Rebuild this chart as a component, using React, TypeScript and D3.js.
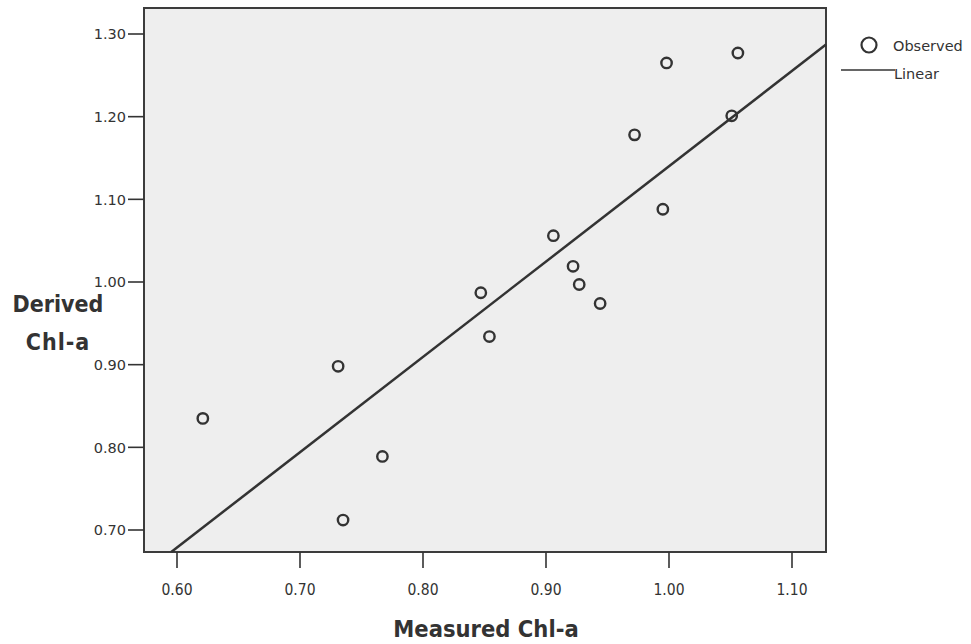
import React from "react";
import * as d3 from "d3";

// Measured vs. derived chlorophyll-a
const measured = [0.621, 0.731, 0.735, 0.767, 0.847, 0.854, 0.906, 0.922, 0.927, 0.944, 0.972, 0.995, 0.998, 1.051, 1.056];
const derived = [0.835, 0.898, 0.712, 0.789, 0.987, 0.934, 1.056, 1.019, 0.997, 0.974, 1.178, 1.088, 1.265, 1.201, 1.277];

// Linear fit: derived = intercept + slope * measured
const fitIntercept = -0.013;
const fitSlope = 1.153;

const xTicks = [0.6, 0.7, 0.8, 0.9, 1.0, 1.1];
const yTicks = [0.7, 0.8, 0.9, 1.0, 1.1, 1.2, 1.3];

const W = 971;
const H = 644;
const frame = { left: 144, right: 826, top: 8, bottom: 552 };
const ink = "#333333";
const font = "'DejaVu Sans', Verdana, sans-serif";
const narrow = "'DejaVu Sans Condensed', 'DejaVu Sans', sans-serif";

export default function App() {
  const x = d3.scaleLinear().domain([0.6, 1.1]).range([177, 792]);
  const y = d3.scaleLinear().domain([0.7, 1.3]).range([530, 34]);

  const xMin = x.invert(frame.left);
  const xMax = x.invert(frame.right);
  const yMin = y.invert(frame.bottom);
  const yMax = y.invert(frame.top);

  // clip the fitted line to the frame
  const xStart = Math.max(xMin, (yMin - fitIntercept) / fitSlope);
  const xEnd = Math.min(xMax, (yMax - fitIntercept) / fitSlope);
  const fitLine = d3
    .line<number>()
    .x((d) => x(d))
    .y((d) => y(fitIntercept + fitSlope * d))([xStart, xEnd]);

  const fmt = d3.format(".2f");

  return (
    <svg
      width={W}
      height={H}
      style={{ position: "absolute", left: 0, top: 0, background: "#ffffff" }}
      fontFamily={font}
    >
      <rect
        x={frame.left}
        y={frame.top}
        width={frame.right - frame.left}
        height={frame.bottom - frame.top}
        fill="#eeeeee"
        stroke="#3c3c3c"
        strokeWidth={2}
      />

      {/* y axis ticks */}
      {yTicks.map((t) => (
        <g key={"y" + t}>
          <line x1={128} x2={frame.left} y1={y(t)} y2={y(t)} stroke={ink} strokeWidth={1.6} />
          <text x={126} y={y(t)} dy="0.36em" textAnchor="end" fontSize={14.5} fill={ink}>
            {fmt(t)}
          </text>
        </g>
      ))}

      {/* x axis ticks */}
      {xTicks.map((t) => (
        <g key={"x" + t}>
          <line x1={x(t)} x2={x(t)} y1={frame.bottom} y2={568} stroke={ink} strokeWidth={1.6} />
          <text x={x(t)} y={595} textAnchor="middle" fontSize={15.5} fill={ink} fontFamily={narrow}>
            {fmt(t)}
          </text>
        </g>
      ))}

      {/* fitted line */}
      <path d={fitLine ?? ""} fill="none" stroke={ink} strokeWidth={2.5} />

      {/* observations */}
      {measured.map((m, i) => (
        <circle key={i} cx={x(m)} cy={y(derived[i])} r={5.2} fill="none" stroke={ink} strokeWidth={2.4} />
      ))}

      {/* axis titles */}
      <text x={58} y={312} textAnchor="middle" fontSize={23} fontWeight="bold" fill={ink} fontFamily={narrow}>
        Derived
      </text>
      <text x={58} y={350} textAnchor="middle" fontSize={23} fontWeight="bold" fill={ink} fontFamily={narrow} letterSpacing={1}>
        Chl-a
      </text>
      <text x={486} y={637} textAnchor="middle" fontSize={23.5} fontWeight="bold" fill={ink} fontFamily={narrow}>
        Measured Chl-a
      </text>

      {/* legend */}
      <circle cx={869} cy={45} r={7.5} fill="none" stroke={ink} strokeWidth={2.2} />
      <text x={893} y={51} fontSize={14.5} fill={ink}>
        Observed
      </text>
      <line x1={841} x2={895} y1={70} y2={70} stroke={ink} strokeWidth={1.6} />
      <text x={894} y={79} fontSize={14.5} fill={ink}>
        Linear
      </text>
    </svg>
  );
}
